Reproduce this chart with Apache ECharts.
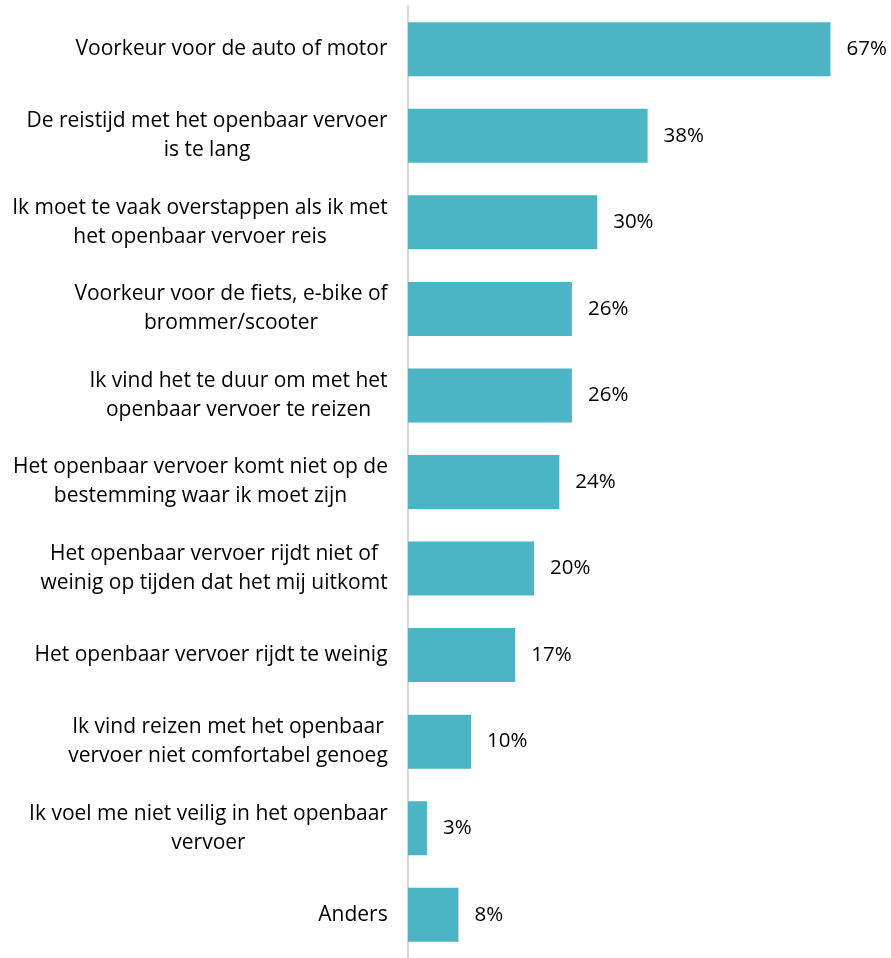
<!DOCTYPE html>
<html>
<head>
<meta charset="utf-8">
<script src="https://cdn.jsdelivr.net/npm/echarts@6/dist/echarts.min.js"></script>
<style>html,body{margin:0;padding:0;background:#fff;}#c{width:891px;height:958px;}</style>
</head>
<body>
<div id="c"></div>
<script>
var categories = [
  "Voorkeur voor de auto of motor",
  "De reistijd met het openbaar vervoer\nis te lang",
  "Ik moet te vaak overstappen als ik met\nhet openbaar vervoer reis",
  "Voorkeur voor de fiets, e-bike of\nbrommer/scooter",
  "Ik vind het te duur om met het\nopenbaar vervoer te reizen",
  "Het openbaar vervoer komt niet op de\nbestemming waar ik moet zijn",
  "Het openbaar vervoer rijdt niet of\nweinig op tijden dat het mij uitkomt",
  "Het openbaar vervoer rijdt te weinig",
  "Ik vind reizen met het openbaar\nvervoer niet comfortabel genoeg",
  "Ik voel me niet veilig in het openbaar\nvervoer",
  "Anders"
];
var values = [67, 38, 30, 26, 26, 24, 20, 17, 10, 3, 8];

var FONT = 'Open Sans';
var FS = 21;
var ctx = document.createElement('canvas').getContext('2d');
ctx.font = FS + 'px "' + FONT + '"';
var rich = {};
var catIndex = {};
categories.forEach(function (c, i) {
  catIndex[c] = i;
  var w = 0;
  c.split('\n').forEach(function (l) { w = Math.max(w, ctx.measureText(l).width); });
  rich['w' + i] = { width: Math.ceil(w), align: 'center', fontSize: FS, fontFamily: FONT, color: '#000', lineHeight: 29 };
});

var chart = echarts.init(document.getElementById('c'));
chart.setOption({
  animation: false,
  grid: { left: 408, top: 6, right: 0, height: 957 },
  xAxis: { type: 'value', min: 0, max: 76.6, show: false },
  yAxis: {
    type: 'category', data: categories, inverse: true,
    axisLine: { show: true, lineStyle: { color: '#d9d9d9', width: 2 } },
    axisTick: { show: false },
    axisLabel: {
      color: '#000', fontSize: FS, fontFamily: FONT, lineHeight: 29, margin: 20, align: 'right',
      rich: rich,
      formatter: function (v) {
        var i = catIndex[v];
        return v.split('\n').map(function (l) { return '{w' + i + '|' + l + '}'; }).join('\n');
      }
    }
  },
  series: [{
    type: 'bar', data: values, barWidth: 54,
    itemStyle: { color: '#4bb5c5' },
    label: { show: true, position: 'right', distance: 16, formatter: '{c}%', color: '#000', fontSize: 20.5, fontFamily: FONT }
  }]
});
</script>
</body>
</html>
